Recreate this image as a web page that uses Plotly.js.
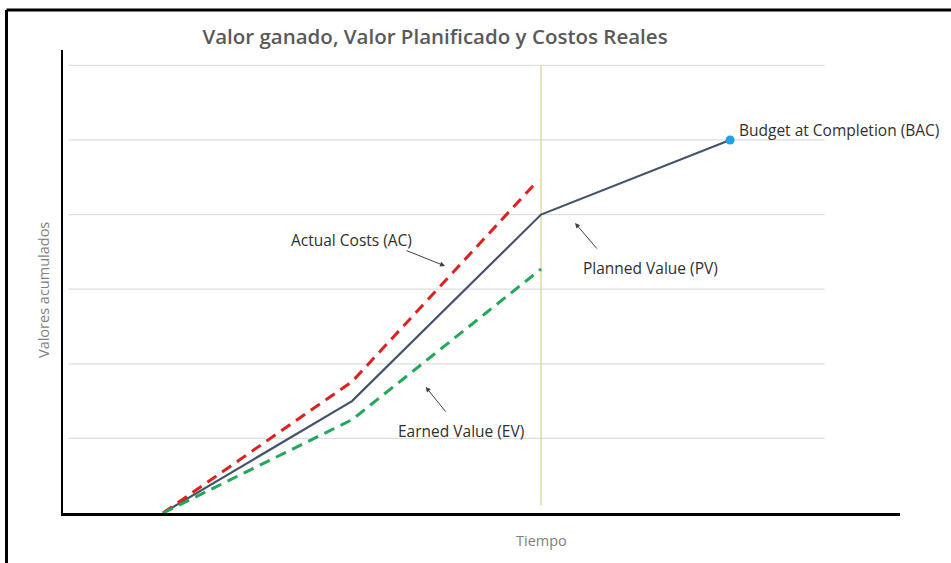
<!DOCTYPE html>
<html>
<head>
<meta charset="utf-8">
<script src="https://cdn.plot.ly/plotly-3.0.1.min.js"></script>
<style>
html,body{margin:0;padding:0;background:#fff;}
#chart{width:951px;height:563px;}
</style>
</head>
<body>
<div id="chart"></div>
<script>
// ---- data ----
const periods = [1, 2, 3, 4];
const pvValues = [0, 1.5, 4.0, 5.0];          // Planned Value
const acPeriods = [1, 2, 2.97];
const acValues = [0, 1.76, 4.42];             // Actual Costs
const evPeriods = [1, 2, 3];
const evValues = [0, 1.25, 3.27];             // Earned Value
const bacPeriod = [4];
const bacValue = [5.0];
const gridLevels = [1, 2, 3, 4, 5, 6];
const statusDate = 3;

const labelFont = {family: "Open Sans, sans-serif", size: 15.5, color: "#303030"};
const axisFont = {family: "Open Sans, sans-serif", size: 14.5, color: "#808080"};

const traces = [
  {x: periods, y: pvValues, mode: "lines", line: {color: "#44546a", width: 2.2}, hoverinfo: "skip"},
  {x: acPeriods, y: acValues, mode: "lines", line: {color: "#e0201e", width: 3, dash: "11px,7px"}, hoverinfo: "skip"},
  {x: evPeriods, y: evValues, mode: "lines", line: {color: "#22a85a", width: 3, dash: "11px,7px"}, hoverinfo: "skip"},
  {x: bacPeriod, y: bacValue, mode: "markers", marker: {color: "#1aa3ea", size: 9}, hoverinfo: "skip"}
];

const shapes = [];
gridLevels.forEach(g => shapes.push({type: "line", xref: "x", yref: "y", x0: 0.5, x1: 4.5, y0: g, y1: g,
  line: {color: "#dedede", width: 1.2}, layer: "below"}));
shapes.push({type: "line", xref: "x", yref: "y", x0: statusDate, x1: statusDate, y0: 0.1, y1: 6,
  line: {color: "#d4cf96", width: 1.2}, layer: "below"});
// outer frame (top and left)
shapes.push({type: "line", xref: "paper", yref: "paper", x0: -0.0675, x1: 1.07, y0: 1.0864, y1: 1.0864,
  line: {color: "#000", width: 3}});
shapes.push({type: "line", xref: "paper", yref: "paper", x0: -0.0675, x1: -0.0675, y0: 1.0864, y1: -0.12,
  line: {color: "#000", width: 3}});

const arrowStyle = {showarrow: true, arrowhead: 2, arrowsize: 1, arrowwidth: 1, arrowcolor: "#404040", text: ""};
const annotations = [
  Object.assign({x: 2.492, y: 3.311, ax: -40, ay: -16}, arrowStyle),
  Object.assign({x: 3.18, y: 3.887, ax: 23, ay: 27}, arrowStyle),
  Object.assign({x: 2.39, y: 1.689, ax: 21, ay: 26}, arrowStyle),
  {x: 1.995, y: 3.66, text: "Actual Costs (AC)", xanchor: "center", yanchor: "middle", showarrow: false, font: labelFont},
  {x: 3.577, y: 3.284, text: "Planned Value (PV)", xanchor: "center", yanchor: "middle", showarrow: false, font: labelFont},
  {x: 2.577, y: 1.10, text: "Earned Value (EV)", xanchor: "center", yanchor: "middle", showarrow: false, font: labelFont},
  {x: 4.037, y: 5.134, text: "Budget at Completion (BAC)", xanchor: "left", yanchor: "middle", showarrow: false, font: labelFont},
  {xref: "paper", yref: "paper", x: (43 - 63) / 837, y: (513 - 290) / 463, text: "Valores acumulados", textangle: -90,
    xanchor: "center", yanchor: "middle", showarrow: false, font: axisFont},
  {xref: "paper", yref: "paper", x: (541 - 63) / 837, y: (513 - 540) / 463, text: "Tiempo",
    xanchor: "center", yanchor: "middle", showarrow: false, font: axisFont}
];

const layout = {
  width: 951, height: 563,
  margin: {l: 63, r: 51, t: 50, b: 50, pad: 0},
  paper_bgcolor: "#fff", plot_bgcolor: "#fff",
  showlegend: false,
  title: {text: "Valor ganado, Valor Planificado y Costos Reales", xref: "container", yref: "container",
    x: 435 / 951, y: 1 - 37 / 563, xanchor: "center", yanchor: "middle",
    font: {family: "Open Sans, sans-serif", size: 20.5, color: "#595959", weight: 600}},
  xaxis: {range: [0.471, 4.899], showgrid: false, zeroline: false, showticklabels: false, ticks: "",
    showline: true, linecolor: "#000", linewidth: 2.5, fixedrange: true},
  yaxis: {range: [0, 6.206], showgrid: false, zeroline: false, showticklabels: false, ticks: "",
    showline: true, linecolor: "#000", linewidth: 2.5, fixedrange: true},
  shapes: shapes,
  annotations: annotations
};

Plotly.newPlot("chart", traces, layout, {displayModeBar: false, staticPlot: true});
</script>
</body>
</html>
